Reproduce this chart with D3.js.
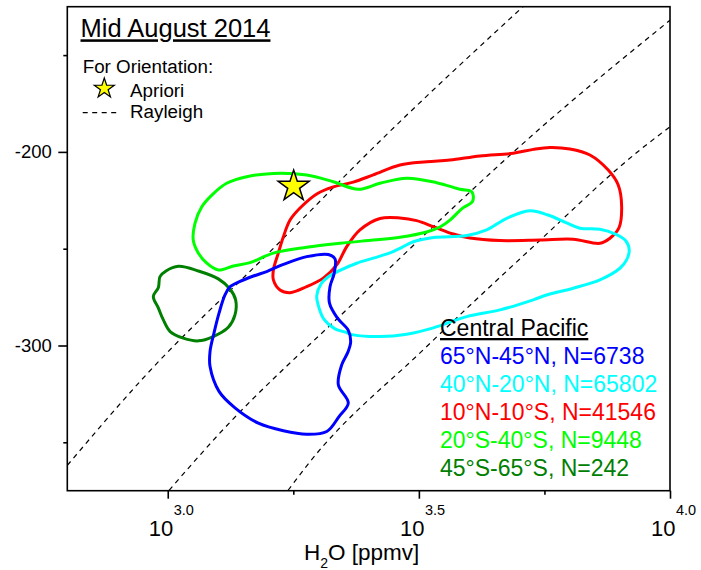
<!DOCTYPE html>
<html>
<head>
<meta charset="utf-8">
<script src="https://cdn.jsdelivr.net/npm/d3@7"></script>
<style>
  body { margin: 0; background: #fff; }
  svg { display: block; }
  text { font-family: "Liberation Sans", Arial, Helvetica, sans-serif; }
</style>
</head>
<body>
<svg id="chart" width="701" height="570"></svg>
<script>
// ---- data: H2O [ppmv] vs deltaD [permil] contours, Central Pacific, mid August 2014 ----
const regions = ["65°N-45°N", "40°N-20°N", "10°N-10°S", "20°S-40°S", "45°S-65°S"];
const counts  = [6738, 65802, 41546, 9448, 242];
const colors  = ["#0000ff", "#00ffff", "#ff0000", "#00ff00", "#008000"];

const contourNH65 = [[1300,-273.9],[1330,-269.7],[1393,-266.9],[1481,-264.1],[1574,-261.8],[1699,-258.1],
  [1891,-254.1],[2088,-253.0],[2153,-255.3],[2143,-263.0],[2104,-269.6],[2099,-278.1],[2178,-285.9],
  [2288,-292.2],[2313,-298.1],[2285,-303.3],[2220,-310.0],[2186,-320.3],[2288,-329.7],[2193,-336.7],
  [2073,-344.4],[1891,-345.8],[1699,-344.0],[1515,-340.1],[1361,-332.2],[1265,-323.7],[1214,-310.9],
  [1214,-303.0],[1236,-293.6],[1265,-283.3]];

const contourNH40 = [[1980,-274.4],[2019,-268.2],[2085,-264.6],[2203,-261.2],[2378,-257.5],[2566,-254.9],
  [2770,-252.2],[2900,-249.8],[3083,-246.4],[3379,-244.2],[3937,-243.2],[4315,-240.3],[4730,-234.3],
  [5261,-230.4],[5715,-232.6],[6206,-236.5],[6617,-239.4],[7253,-240.0],[7768,-242.4],[8170,-246.0],
  [8295,-250.6],[8196,-255.8],[7949,-260.1],[7253,-266.1],[6416,-270.4],[5681,-273.9],[5342,-276.4],
  [4585,-281.6],[3937,-285.1],[3379,-290.9],[2990,-294.2],[2646,-295.4],[2341,-294.5],[2264,-293.2],
  [2153,-291.4],[2047,-286.5],[2001,-280.6]];

const contourTropics = [[1623,-261.0],[1660,-252.3],[1699,-243.8],[1752,-235.2],[1834,-229.0],[1980,-221.7],
  [2136,-218.1],[2341,-215.6],[2566,-211.9],[2900,-206.8],[3277,-205.1],[3647,-204.2],[4184,-202.1],
  [4874,-200.7],[5342,-198.7],[5765,-197.7],[6321,-198.5],[6928,-201.6],[7534,-209.4],[7887,-217.1],
  [8012,-228.3],[7913,-239.3],[7593,-244.6],[7253,-247.2],[6416,-245.1],[5508,-245.5],[4585,-245.8],
  [3997,-244.5],[3703,-242.4],[3379,-238.6],[3130,-235.5],[2900,-234.1],[2646,-234.4],[2414,-240.3],
  [2272,-248.9],[2170,-258.4],[2040,-265.2],[1891,-269.6],[1752,-272.7],[1673,-271.3],[1623,-266.1]];

const contourSH20 = [[1124,-245.5],[1133,-236.9],[1169,-228.3],[1224,-222.3],[1310,-216.2],[1436,-212.8],
  [1623,-211.1],[1891,-211.9],[2136,-215.4],[2396,-219.3],[2646,-216.2],[2990,-213.6],[3431,-215.9],
  [3818,-219.3],[4029,-220.6],[4047,-225.4],[3853,-229.3],[3647,-235.2],[3483,-238.8],[3277,-241.4],
  [2900,-244.1],[2566,-245.5],[2203,-247.2],[1891,-249.3],[1623,-252.3],[1458,-257.2],[1351,-258.9],
  [1261,-261.0],[1196,-257.5],[1151,-252.3]];

const contourSH45 = [[936,-274.7],[958,-270.0],[965,-264.4],[992,-261.5],[1050,-259.1],[1151,-261.5],
  [1261,-265.6],[1330,-270.8],[1365,-276.4],[1361,-284.2],[1320,-290.6],[1232,-295.4],[1151,-297.6],
  [1074,-296.2],[1011,-292.8],[980,-286.8],[958,-280.7]];

const contours = [contourNH65, contourNH40, contourTropics, contourSH20, contourSH45];

// Rayleigh reference curves
const rayleigh1 = [[631,-361.9],[887,-317.7],[1648,-248.1],[2622,-195.4],[5096,-125.0]];
const rayleigh2 = [[1006,-374.8],[1261,-346.1],[2360,-277.3],[2900,-254.9],[5466,-188.7],[10000,-132.0]];
const rayleigh3 = [[1736,-374.8],[1905,-361.1],[3252,-301.4],[5342,-248.9],[8712,-199.0],[10000,-187.0]];
const rayleighCurves = [rayleigh1, rayleigh2, rayleigh3];

const apriori = [1781, -217.8];

// axis ticks
const yMajorTicks = [-300, -200];
const yMinorTicks = [-350, -250, -150];
const xMajorTicks = [1000, Math.pow(10, 3.5), 10000];
const xMajorLabels = ["3.0", "3.5", "4.0"];
const xMinorTicks = [Math.pow(10, 3.25), Math.pow(10, 3.75)];

// ---- layout ----
const plot = { left: 67.3, right: 670, top: 6.7, bottom: 490.7 };
const svg = d3.select("#chart");

const x = d3.scaleLog().domain([Math.pow(10, 2.8), 10000]).range([plot.left, plot.right]);
const y = d3.scaleLinear().domain([-375, -125]).range([plot.bottom, plot.top]);

svg.append("rect").attr("width", 701).attr("height", 570).attr("fill", "#fff");

svg.append("defs").append("clipPath").attr("id", "plotClip")
  .append("rect")
  .attr("x", plot.left).attr("y", plot.top)
  .attr("width", plot.right - plot.left).attr("height", plot.bottom - plot.top);

const inner = svg.append("g").attr("clip-path", "url(#plotClip)");

// Rayleigh dashed curves
const rayLine = d3.line().x(d => x(d[0])).y(d => y(d[1])).curve(d3.curveMonotoneX);
inner.selectAll("path.rayleigh").data(rayleighCurves).join("path")
  .attr("class", "rayleigh")
  .attr("d", rayLine)
  .attr("fill", "none")
  .attr("stroke", "#000")
  .attr("stroke-width", 1.2)
  .attr("stroke-dasharray", "5,4.5");

// contours
const contourLine = d3.line().x(d => x(d[0])).y(d => y(d[1]))
  .curve(d3.curveCatmullRomClosed.alpha(0.5));
const drawOrder = [2, 3, 1, 4, 0];
inner.selectAll("path.contour").data(drawOrder).join("path")
  .attr("class", "contour")
  .attr("d", i => contourLine(contours[i]))
  .attr("fill", "none")
  .attr("stroke", i => colors[i])
  .attr("stroke-width", 3)
  .attr("stroke-linejoin", "round");

// a-priori star
const bigStar = d3.symbol().type(d3.symbolStar).size(298);
inner.append("path")
  .attr("d", bigStar())
  .attr("transform", `translate(${x(apriori[0])},${y(apriori[1])})`)
  .attr("fill", "#ffff00")
  .attr("stroke", "#000")
  .attr("stroke-width", 1.5)
  .attr("stroke-linejoin", "miter");

// frame
svg.append("rect")
  .attr("x", plot.left).attr("y", plot.top)
  .attr("width", plot.right - plot.left).attr("height", plot.bottom - plot.top)
  .attr("fill", "none").attr("stroke", "#000").attr("stroke-width", 1.6);

// y axis
const yAxisMajor = svg.append("g").attr("transform", `translate(${plot.left},0)`)
  .call(d3.axisLeft(y).tickValues(yMajorTicks).tickSize(9).tickPadding(6.5).tickFormat(d => String(d)));
const yAxisMinor = svg.append("g").attr("transform", `translate(${plot.left},0)`)
  .call(d3.axisLeft(y).tickValues(yMinorTicks).tickSize(4).tickFormat(""));
[yAxisMajor, yAxisMinor].forEach(g => {
  g.select(".domain").remove();
  g.selectAll(".tick line").attr("stroke", "#000").attr("stroke-width", 1.6);
});
yAxisMajor.selectAll(".tick text")
  .attr("fill", "#000")
  .style("font-size", "18.5px")
  .style("font-family", "'Liberation Sans', Arial, sans-serif");

// x axis
const xAxisMajor = svg.append("g").attr("transform", `translate(0,${plot.bottom})`)
  .call(d3.axisBottom(x).tickValues(xMajorTicks).tickSize(8).tickFormat(""));
const xAxisMinor = svg.append("g").attr("transform", `translate(0,${plot.bottom})`)
  .call(d3.axisBottom(x).tickValues(xMinorTicks).tickSize(4).tickFormat(""));
[xAxisMajor, xAxisMinor].forEach(g => {
  g.select(".domain").remove();
  g.selectAll(".tick line").attr("stroke", "#000").attr("stroke-width", 1.6);
  g.selectAll(".tick text").remove();
});
xAxisMajor.selectAll(".tick").each(function (d, i) {
  const t = d3.select(this);
  t.append("text")
    .attr("x", 5).attr("y", 45.3)
    .attr("text-anchor", "end")
    .attr("fill", "#000")
    .style("font-size", "22px")
    .text("10");
  t.append("text")
    .attr("x", 5.5).attr("y", 24.3)
    .attr("text-anchor", "start")
    .attr("fill", "#000")
    .style("font-size", "14.5px")
    .text(xMajorLabels[i]);
});

// x axis title
const xTitle = svg.append("text")
  .attr("x", 304).attr("y", 560)
  .attr("fill", "#000")
  .style("font-size", "22.5px");
xTitle.append("tspan").text("H");
xTitle.append("tspan").attr("dy", 7.5).style("font-size", "14px").text("2");
xTitle.append("tspan").attr("dy", -7.5).text("O [ppmv]");

// title
svg.append("text")
  .attr("x", 80.5).attr("y", 37.3)
  .attr("fill", "#000")
  .attr("text-decoration", "underline")
  .style("font-size", "25.5px")
  .text("Mid August 2014");

// orientation legend
svg.append("text").attr("x", 82.7).attr("y", 73.3).attr("fill", "#000")
  .style("font-size", "18.8px").text("For Orientation:");
svg.append("path")
  .attr("d", d3.symbol().type(d3.symbolStar).size(124)())
  .attr("transform", "translate(104.3,88.5)")
  .attr("fill", "#ffff00").attr("stroke", "#000").attr("stroke-width", 1.2);
svg.append("text").attr("x", 130).attr("y", 96.7).attr("fill", "#000")
  .style("font-size", "18.8px").text("Apriori");
svg.append("line")
  .attr("x1", 82.7).attr("x2", 119.5).attr("y1", 112.7).attr("y2", 112.7)
  .attr("stroke", "#000").attr("stroke-width", 1.2).attr("stroke-dasharray", "5,4.5");
svg.append("text").attr("x", 130).attr("y", 118.3).attr("fill", "#000")
  .style("font-size", "18.8px").text("Rayleigh");

// region legend
const legend = svg.append("g").attr("transform", "translate(440,0)");
legend.append("text").attr("x", 0).attr("y", 336)
  .attr("fill", "#000").attr("text-decoration", "underline")
  .style("font-size", "23px").text("Central Pacific");
legend.selectAll("text.entry").data(regions).join("text")
  .attr("class", "entry")
  .attr("x", 0)
  .attr("y", (d, i) => 364 + i * 28)
  .attr("fill", (d, i) => colors[i])
  .style("font-size", "23px")
  .text((d, i) => `${d}, N=${counts[i]}`);
</script>
</body>
</html>
